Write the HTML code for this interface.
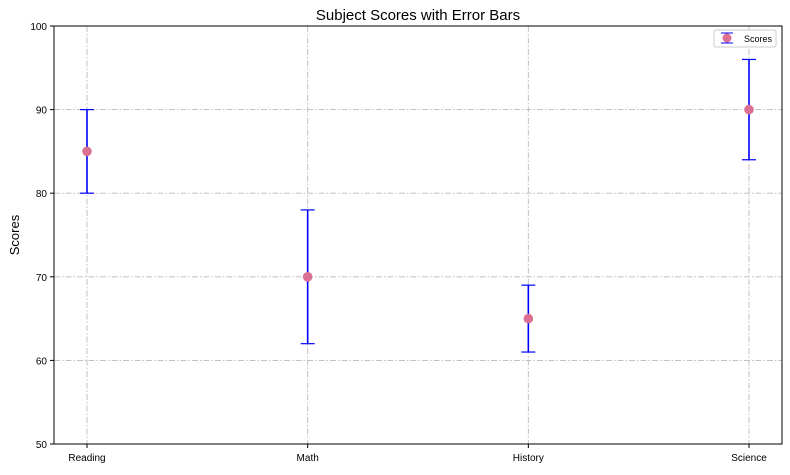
<!DOCTYPE html>
<html><head><meta charset="utf-8"><style>
body{margin:0;background:#fff;}
svg text{font-family:"Liberation Sans","DejaVu Sans",sans-serif;}
</style></head><body>
<svg id="chart" width="790" height="470" xmlns="http://www.w3.org/2000/svg">
<rect width="790" height="470" fill="#fff"/>
<text x="418" y="20" font-size="15" text-anchor="middle">Subject Scores with Error Bars</text>
<g id="grid"></g>
<g id="axes"></g>
<g id="marks"></g>
<text transform="translate(19,235) rotate(-90)" font-size="13" text-anchor="middle">Scores</text>
<g>
<rect x="714" y="30" width="62" height="17" rx="2" fill="#fff" stroke="#ccc"/>
<line x1="727" y1="33" x2="727" y2="43" stroke="blue" stroke-width="1.5"/>
<line x1="721" y1="33" x2="733" y2="33" stroke="blue"/>
<line x1="721" y1="43" x2="733" y2="43" stroke="blue"/>
<circle cx="727" cy="38" r="4.5" fill="#db7093"/>
<text x="744" y="42" font-size="9">Scores</text>
</g>
</svg>
<script>
const categories=["Reading","Math","History","Science"];
const scores=[85,70,65,90];
const errors=[5,8,4,6];
const yTicks=[50,60,70,80,90,100];
const L=54,R=782,T=26,B=444,pad=33;
const ns="http://www.w3.org/2000/svg";
const dash='6,2,1.5,2';
function y(v){return B-(v-50)/50*(B-T);}
function x(i){return L+pad+i*(R-L-2*pad)/(categories.length-1);}
function mk(tag,attrs,parent){const e=document.createElementNS(ns,tag);for(const k in attrs)e.setAttribute(k,attrs[k]);document.getElementById(parent).appendChild(e);return e;}
yTicks.forEach(v=>{
  if(v>50&&v<100){const g=mk('line',{x1:L,x2:R,y1:y(v),y2:y(v),stroke:'#bbb','stroke-dasharray':dash,'stroke-width':0.9},'grid');
  
  }
  mk('line',{x1:L-4,x2:L,y1:y(v),y2:y(v),stroke:'#000'},'axes');
  const t=mk('text',{x:L-7,y:y(v)+4,'font-size':10,'text-anchor':'end'},'axes');t.textContent=v;
  
  
});
categories.forEach((c,i)=>{
  const g=mk('line',{x1:x(i),x2:x(i),y1:T,y2:B,stroke:'#bbb','stroke-dasharray':dash,'stroke-width':0.9},'grid');
  
  
  mk('line',{x1:x(i),x2:x(i),y1:B,y2:B+4,stroke:'#000'},'axes');
  const t=mk('text',{x:x(i),y:B+17,'font-size':10,'text-anchor':'middle'},'axes');t.textContent=c;
  
  
});
const fr=mk('rect',{x:L,y:T,width:R-L,height:B-T,fill:'none',stroke:'#000','stroke-width':1},'axes');


categories.forEach((c,i)=>{
  const hi=y(scores[i]+errors[i]),lo=y(scores[i]-errors[i]),cx=x(i);
  const e=mk('line',{x1:cx,x2:cx,y1:hi,y2:lo,stroke:'blue','stroke-width':1.6},'marks');
  
  
  mk('line',{x1:cx-7,x2:cx+7,y1:hi,y2:hi,stroke:'blue','stroke-width':1.2},'marks');
  mk('line',{x1:cx-7,x2:cx+7,y1:lo,y2:lo,stroke:'blue','stroke-width':1.2},'marks');
  const p=mk('circle',{cx:cx,cy:y(scores[i]),r:4.8,fill:'#db7093'},'marks');
  
  
});
</script>
</body></html>
